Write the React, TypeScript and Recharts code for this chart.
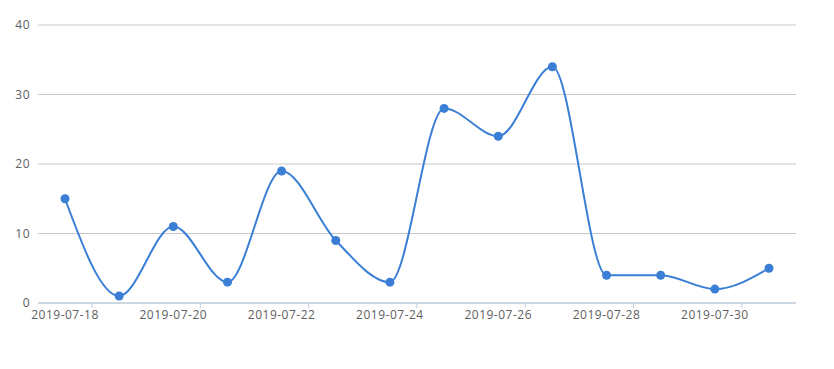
import { LineChart, Line, XAxis, YAxis, CartesianGrid } from "recharts";

const dates = [
  "2019-07-18", "2019-07-19", "2019-07-20", "2019-07-21", "2019-07-22",
  "2019-07-23", "2019-07-24", "2019-07-25", "2019-07-26", "2019-07-27",
  "2019-07-28", "2019-07-29", "2019-07-30", "2019-07-31",
];
const counts = [15, 1, 11, 3, 19, 9, 3, 28, 24, 34, 4, 4, 2, 5];
const yTicks = [0, 10, 20, 30, 40];

const data = dates.map((date, i) => ({ date, count: counts[i] }));

const AXIS_COLOR = "#b9cde4";
const TEXT_COLOR = "#5e5e5e";
const LINE_COLOR = "#3a7fd5";
const FONT = "'Open Sans', sans-serif";

// labels on every other day, tick mark at the right edge of that day's band
function DateTick(props: any) {
  const { x, y, payload, index } = props;
  if (index % 2 !== 0) return null;
  const half = 27;
  return (
    <g>
      <line x1={x + half} y1={y - 8} x2={x + half} y2={y - 3} stroke={AXIS_COLOR} />
      <text
        x={x}
        y={y + 8}
        textAnchor="middle"
        fill={TEXT_COLOR}
        fontSize={12}
        fontFamily={FONT}
        letterSpacing={0.5}
      >
        {payload.value}
      </text>
    </g>
  );
}

export default function App() {
  return (
    <div style={{ position: "absolute", left: 0, top: 0, background: "#fff" }}>
      <LineChart
        width={834}
        height={369}
        data={data}
        margin={{ top: 25, right: 38, bottom: 36, left: 0 }}
      >
        <CartesianGrid vertical={false} stroke="#c8c8c8" />
        <XAxis
          dataKey="date"
          interval={0}
          padding={{ left: 27, right: 27 }}
          height={30}
          axisLine={{ stroke: AXIS_COLOR }}
          tickLine={false}
          tick={<DateTick />}
        />
        <YAxis
          width={38}
          domain={[0, 40]}
          ticks={yTicks}
          axisLine={false}
          tickLine={false}
          tickSize={0}
          tickMargin={8}
          tick={{ fill: TEXT_COLOR, fontSize: 12, fontFamily: FONT, letterSpacing: 0.5 }}
        />
        <Line
          type="monotone"
          dataKey="count"
          stroke={LINE_COLOR}
          strokeWidth={2}
          dot={{ r: 4.5, fill: LINE_COLOR, stroke: LINE_COLOR, strokeWidth: 0 }}
          activeDot={false}
          isAnimationActive={false}
        />
      </LineChart>
    </div>
  );
}
